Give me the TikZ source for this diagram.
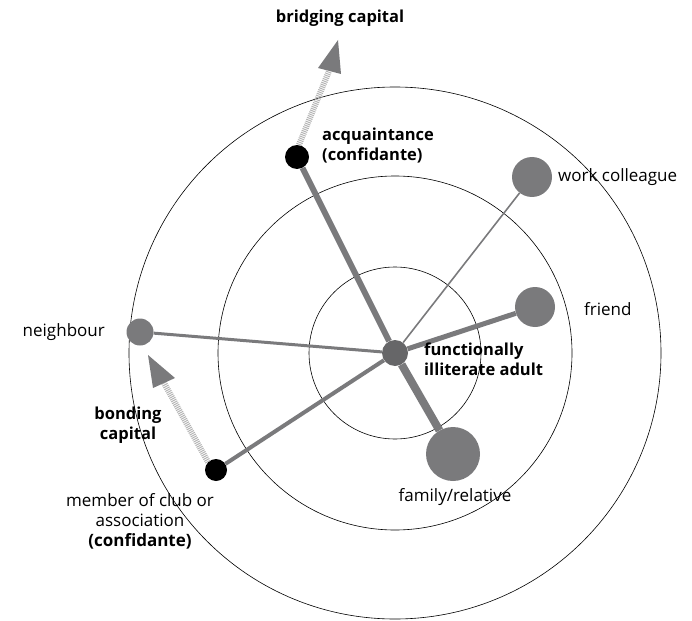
\documentclass[tikz,border=0pt]{standalone}
\usepackage{fontspec}
\setmainfont{Open Sans}
\definecolor{tiegray}{HTML}{7A7A7C}
\definecolor{hubgray}{HTML}{666668}
\definecolor{hatchgray}{HTML}{B4B4B4}
\tikzset{
  ring/.style={draw=black, line width=0.6pt},
  contact/.style={circle, fill=tiegray, inner sep=0pt, minimum size=#1},
  confidante/.style={circle, fill=black, inner sep=0pt, minimum size=#1},
  tie/.style={draw=tiegray, line width=#1},
  capital shaft/.style={draw=hatchgray, line width=6pt, dash pattern=on 1pt off 1pt},
  capital head/.style={fill=tiegray},
  label/.style={font=\fontsize{17}{20}\selectfont, align=left, inner sep=1pt},
  strong/.style={label, font=\fontsize{16.5}{20}\selectfont\bfseries}
}

\begin{document}
\begin{tikzpicture}[x=1pt,y=-1pt]
  \useasboundingbox (0,0) rectangle (692,620);

  % rings round the adult
  \coordinate (mid) at (395,353);
  \draw[ring] (mid) circle[radius=86];
  \draw[ring] (mid) circle[radius=177];
  \draw[ring] (mid) circle[radius=266];

  % network members
  \node[circle, fill=hubgray, inner sep=0pt, minimum size=26pt] (adult) at (mid) {};
  \node[confidante=24pt] (acq) at (297,157) {};
  \node[contact=40pt] (work) at (532,177) {};
  \node[contact=40pt] (friend) at (535,307) {};
  \node[contact=27pt] (neigh) at (140,332) {};
  \node[contact=54pt] (family) at (453,454) {};
  \node[confidante=22pt] (club) at (216,470) {};

  % ties
  \draw[tie=6pt] (adult) -- (acq);
  \draw[tie=1.6pt] (adult) -- (work);
  \draw[tie=5pt] (adult) -- (friend);
  \draw[tie=3pt] (adult) -- (neigh);
  \draw[tie=8pt] (adult) -- (family);
  \draw[tie=4pt] (adult) -- (club);

  % capital arrows
  \coordinate (bridgebase) at (329,71);
  \coordinate (bridgeleft) at (318,68);
  \coordinate (bridgeright) at (341,74);
  \coordinate (bridgetip) at (338,40);
  \coordinate (bondbase) at (164,383);
  \coordinate (bondleft) at (153,388);
  \coordinate (bondright) at (175,378);
  \coordinate (bondtip) at (148,355);
  \draw[capital shaft] (acq.north) ++(2,0) -- (bridgebase);
  \fill[capital head] (bridgeleft) -- (bridgetip) -- (bridgeright) -- cycle;
  \draw[capital shaft] (club.north west) -- (bondbase);
  \fill[capital head] (bondleft) -- (bondtip) -- (bondright) -- cycle;

  % labels
  \node[strong] (bridging) at (340,18) {bridging capital};
  \node[strong, anchor=west] (acqlabel) at (321,146) {acquaintance\\(confidante)};
  \node[label, anchor=west] (worklabel) at (557,177) {work colleague};
  \node[label, anchor=west] (friendlabel) at (583,309) {friend};
  \node[label, anchor=east] (neighlabel) at (106,332) {neighbour};
  \node[strong, anchor=north west] (adultlabel) at (423,342) {functionally\\illiterate adult};
  \node[label] (familylabel) at (455,497) {family/relative};
  \node[strong, align=center] (bonding) at (128,425) {bonding\\capital};
  \node[label, align=center] (clublabel) at (140,521)
    {member of club or\\association\\\textbf{(confidante)}};
\end{tikzpicture}
\end{document}
